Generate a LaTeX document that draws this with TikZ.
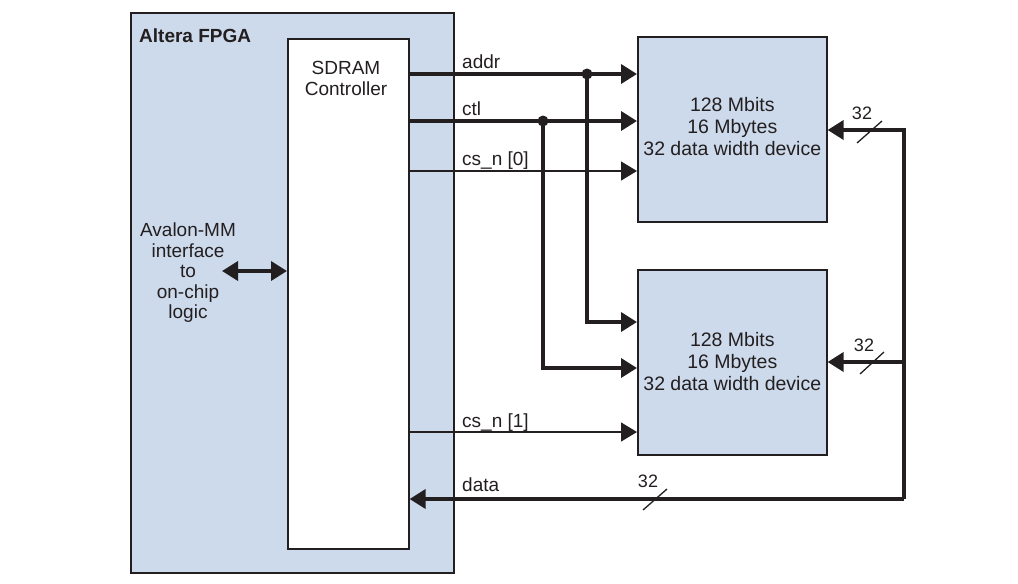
\documentclass[tikz,border=0pt]{standalone}
\usepackage{fontspec}
\setmainfont{Liberation Sans}
\usetikzlibrary{arrows.meta}
\definecolor{fpgablue}{RGB}{205,218,235}
\definecolor{ink}{RGB}{35,31,32}
\begin{document}
\begin{tikzpicture}[x=1pt,y=-1pt,
  font=\fontsize{19}{21}\selectfont,
  box/.style={draw=ink,line width=1.6pt,anchor=north west,inner sep=0pt},
  bus/.style={draw=ink,line width=3.6pt,line join=miter},
  sig/.style={draw=ink,line width=1.3pt},
  tip/.style={-{Triangle[length=16pt,width=19pt]}},
  lbl/.style={anchor=base west,text=ink,inner sep=0pt},
  num/.style={anchor=base,text=ink,inner sep=0pt,font=\fontsize{18}{20}\selectfont},
  slash/.style={draw=ink,line width=1.3pt},
  memtxt/.style={align=center,text=ink,inner sep=0pt,font=\fontsize{19.5}{22}\selectfont},
  dotc/.style={fill=ink}]
\useasboundingbox (0,0) rectangle (1018,584);
% boxes
\node[box,fill=fpgablue,minimum width=323pt,minimum height=560pt] (fpga) at (130,12) {};
\node[box,fill=white,minimum width=121pt,minimum height=510pt] (ctrl) at (287,38) {};
\node[box,fill=fpgablue,minimum width=189pt,minimum height=185pt] (m1) at (637,36) {};
\node[box,fill=fpgablue,minimum width=189pt,minimum height=185pt] (m2) at (637,269) {};
\node[memtxt] (m1t) at ([yshift=3pt]m1.center) {128 Mbits\\16 Mbytes\\32 data width device};
\node[memtxt] (m2t) at ([yshift=1pt]m2.center) {128 Mbits\\16 Mbytes\\32 data width device};
% texts
\node[lbl,font=\bfseries\fontsize{19}{21}\selectfont] (title) at (139,42) {Altera FPGA};
\node[anchor=base,text=ink,inner sep=0pt,align=center] (ctrltxt) at (346,95) {SDRAM\\Controller};
\node[text=ink,inner sep=0pt,align=center,font=\fontsize{19}{20.5}\selectfont] (aval) at (188,273) {Avalon-MM\\interface\\to\\on-chip\\logic};
% coordinates
\coordinate (da) at (587,74);
\coordinate (dc) at (543,121);
\coordinate (ra) at (904,130);
\coordinate (rb) at (904,499);
\coordinate (rc) at (904,362);
% addr / ctl buses
\draw[bus,tip] (ctrl.east |- da) -- (m1.west |- da);
\draw[bus,tip] (ctrl.east |- dc) -- (m1.west |- dc);
\draw[bus,tip] (da) -- (587,322) -- (m2.west |- {(0,322)});
\draw[bus,tip] (dc) -- (543,368) -- (m2.west |- {(0,368)});
\fill[dotc] (da) circle (5.5);
\fill[dotc] (dc) circle (5.5);
% chip selects
\draw[sig,tip] (ctrl.east |- {(0,171)}) -- (m1.west |- {(0,171)});
\draw[sig,tip] (ctrl.east |- {(0,432)}) -- (m2.west |- {(0,432)});
% data
\draw[bus,tip] (rb) -- (ctrl.east |- rb);
\draw[bus,tip] (rc) -- (m2.east |- rc);
\draw[bus,tip] (rb) -- (ra) -- (m1.east |- ra);
% avalon
\draw[bus,{Triangle[length=16pt,width=19pt]}-{Triangle[length=16pt,width=19pt]}] (222,271) -- (ctrl.west |- {(0,271)});
% labels
\node[lbl] (laddr) at (462,68) {addr};
\node[lbl] (lctl) at (462,115) {ctl};
\node[lbl] (lcs0) at (462,165) {cs\_n [0]};
\node[lbl] (lcs1) at (462,427) {cs\_n [1]};
\node[lbl] (ldata) at (462,491) {data};
% widths
\draw[slash] (857,143) -- (882,121);
\node[num] (n1) at (862,119) {32};
\draw[slash] (860,374) -- (884,352);
\node[num] (n2) at (864,351) {32};
\draw[slash] (643,510) -- (667,489);
\node[num] (n3) at (648,487) {32};
\end{tikzpicture}
\end{document}
